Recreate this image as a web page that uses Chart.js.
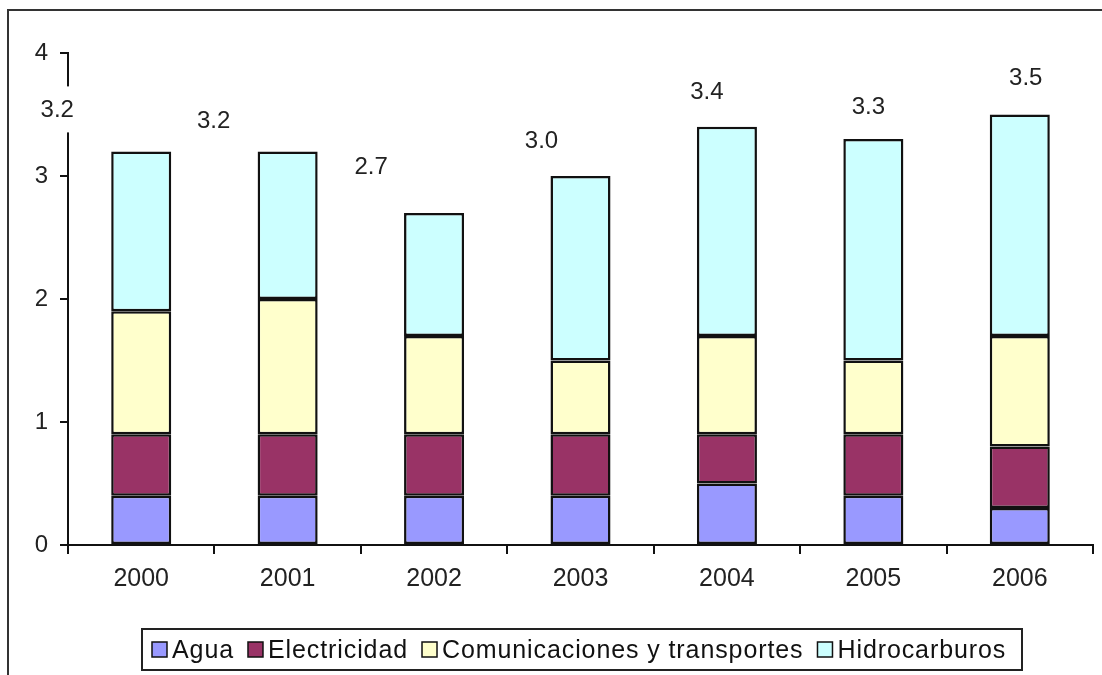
<!DOCTYPE html>
<html>
<head>
<meta charset="utf-8">
<script src="https://cdn.jsdelivr.net/npm/chart.js@4.4.1/dist/chart.umd.min.js"></script>
<style>
	html, body { margin: 0; padding: 0; background: #fff; }
	#wrap { width: 1102px; height: 675px; }
</style>
</head>
<body>
<div id="wrap"><canvas id="chart" width="1102" height="675"></canvas></div>
<script>
const years = ['2000', '2001', '2002', '2003', '2004', '2005', '2006']
const agua = [0.4, 0.4, 0.4, 0.4, 0.5, 0.4, 0.3]
const electricidad = [0.5, 0.5, 0.5, 0.5, 0.4, 0.5, 0.5]
const comunicaciones = [1.0, 1.1, 0.8, 0.6, 0.8, 0.6, 0.9]
const hidrocarburos = [1.3, 1.2, 1.0, 1.5, 1.7, 1.8, 1.8]

const seriesNames = ['Agua', 'Electricidad', 'Comunicaciones y transportes', 'Hidrocarburos']
const seriesColors = ['#9999ff', '#993366', '#ffffcc', '#ccffff']

// where each total label sits relative to the top of its bar
const totalShiftX = [-84, -74, -63, -39, -20, -5, 6]
const totalShiftY = [-42, -31, -47, -36, -35, -33, -37]

const FONT = '"Liberation Sans", Arial, sans-serif'

const totals = years.map((_, i) => agua[i] + electricidad[i] + comunicaciones[i] + hidrocarburos[i])

const makeDataset = (label, data, color) => ({
	label: label,
	data: data,
	backgroundColor: color,
	borderColor: '#111',
	borderWidth: 2.5,
	borderSkipped: false,
	categoryPercentage: 1,
	barPercentage: 0.41,
})

const framePlugin = {
	id: 'frame',
	beforeDraw(chart) {
		const ctx = chart.ctx
		ctx.save()
		ctx.strokeStyle = '#333'
		ctx.lineWidth = 2
		ctx.beginPath()
		ctx.moveTo(8, 675)
		ctx.lineTo(8, 10)
		ctx.lineTo(1102, 10)
		ctx.stroke()
		ctx.restore()
	}
}

const totalsPlugin = {
	id: 'totals',
	afterDraw(chart) {
		const ctx = chart.ctx
		const top = chart.getDatasetMeta(chart.data.datasets.length - 1)
		ctx.save()
		ctx.font = '24px ' + FONT
		ctx.textAlign = 'center'
		ctx.textBaseline = 'middle'
		top.data.forEach((bar, i) => {
			const x = bar.x + totalShiftX[i]
			const y = bar.y + totalShiftY[i]
			const text = totals[i].toFixed(1)
			const w = ctx.measureText(text).width
			ctx.fillStyle = '#fff'
			ctx.fillRect(x - w / 2 - 6, y - 23, w + 12, 46)
			ctx.fillStyle = '#222'
			ctx.fillText(text, x, y + 1)
		})
		ctx.restore()
	}
}

const legendPlugin = {
	id: 'boxLegend',
	afterDraw(chart) {
		const ctx = chart.ctx
		ctx.save()
		ctx.strokeStyle = '#222'
		ctx.lineWidth = 2
		ctx.strokeRect(142, 629, 880, 41)
		ctx.font = '25px ' + FONT
		ctx.letterSpacing = '0.9px'
		ctx.textBaseline = 'middle'
		let x = 152
		seriesNames.forEach((name, i) => {
			ctx.fillStyle = seriesColors[i]
			ctx.fillRect(x, 642, 15, 15)
			ctx.lineWidth = 1.5
			ctx.strokeStyle = '#111'
			ctx.strokeRect(x, 642, 15, 15)
			ctx.fillStyle = '#111'
			ctx.fillText(name, x + 20, 651)
			x += 20 + ctx.measureText(name).width + 14
		})
		ctx.restore()
	}
}

new Chart(document.getElementById('chart'), {
	type: 'bar',
	data: {
		labels: years,
		datasets: [
			makeDataset(seriesNames[0], agua, seriesColors[0]),
			makeDataset(seriesNames[1], electricidad, seriesColors[1]),
			makeDataset(seriesNames[2], comunicaciones, seriesColors[2]),
			makeDataset(seriesNames[3], hidrocarburos, seriesColors[3]),
		]
	},
	options: {
		responsive: false,
		animation: false,
		layout: {
			padding: { top: 53, right: 9, bottom: 0, left: 0 }
		},
		plugins: {
			legend: { display: false },
			tooltip: { enabled: false },
		},
		scales: {
			x: {
				stacked: true,
				afterFit: scale => { scale.height = 130 },
				grid: {
					offset: true,
					drawOnChartArea: false,
					color: '#111',
					lineWidth: 2,
					tickLength: 9,
				},
				border: { color: '#111', width: 2 },
				ticks: {
					color: '#222',
					padding: 10,
					font: { family: FONT, size: 25 },
				},
			},
			y: {
				stacked: true,
				min: 0,
				max: 4,
				afterFit: scale => { scale.width = 68 },
				grid: {
					drawOnChartArea: false,
					color: '#111',
					lineWidth: 2,
					tickLength: 8,
				},
				border: { color: '#111', width: 2 },
				ticks: {
					stepSize: 1,
					color: '#222',
					padding: 12,
					font: { family: FONT, size: 24 },
				},
			},
		},
	},
	plugins: [framePlugin, totalsPlugin, legendPlugin],
})
</script>
</body>
</html>
